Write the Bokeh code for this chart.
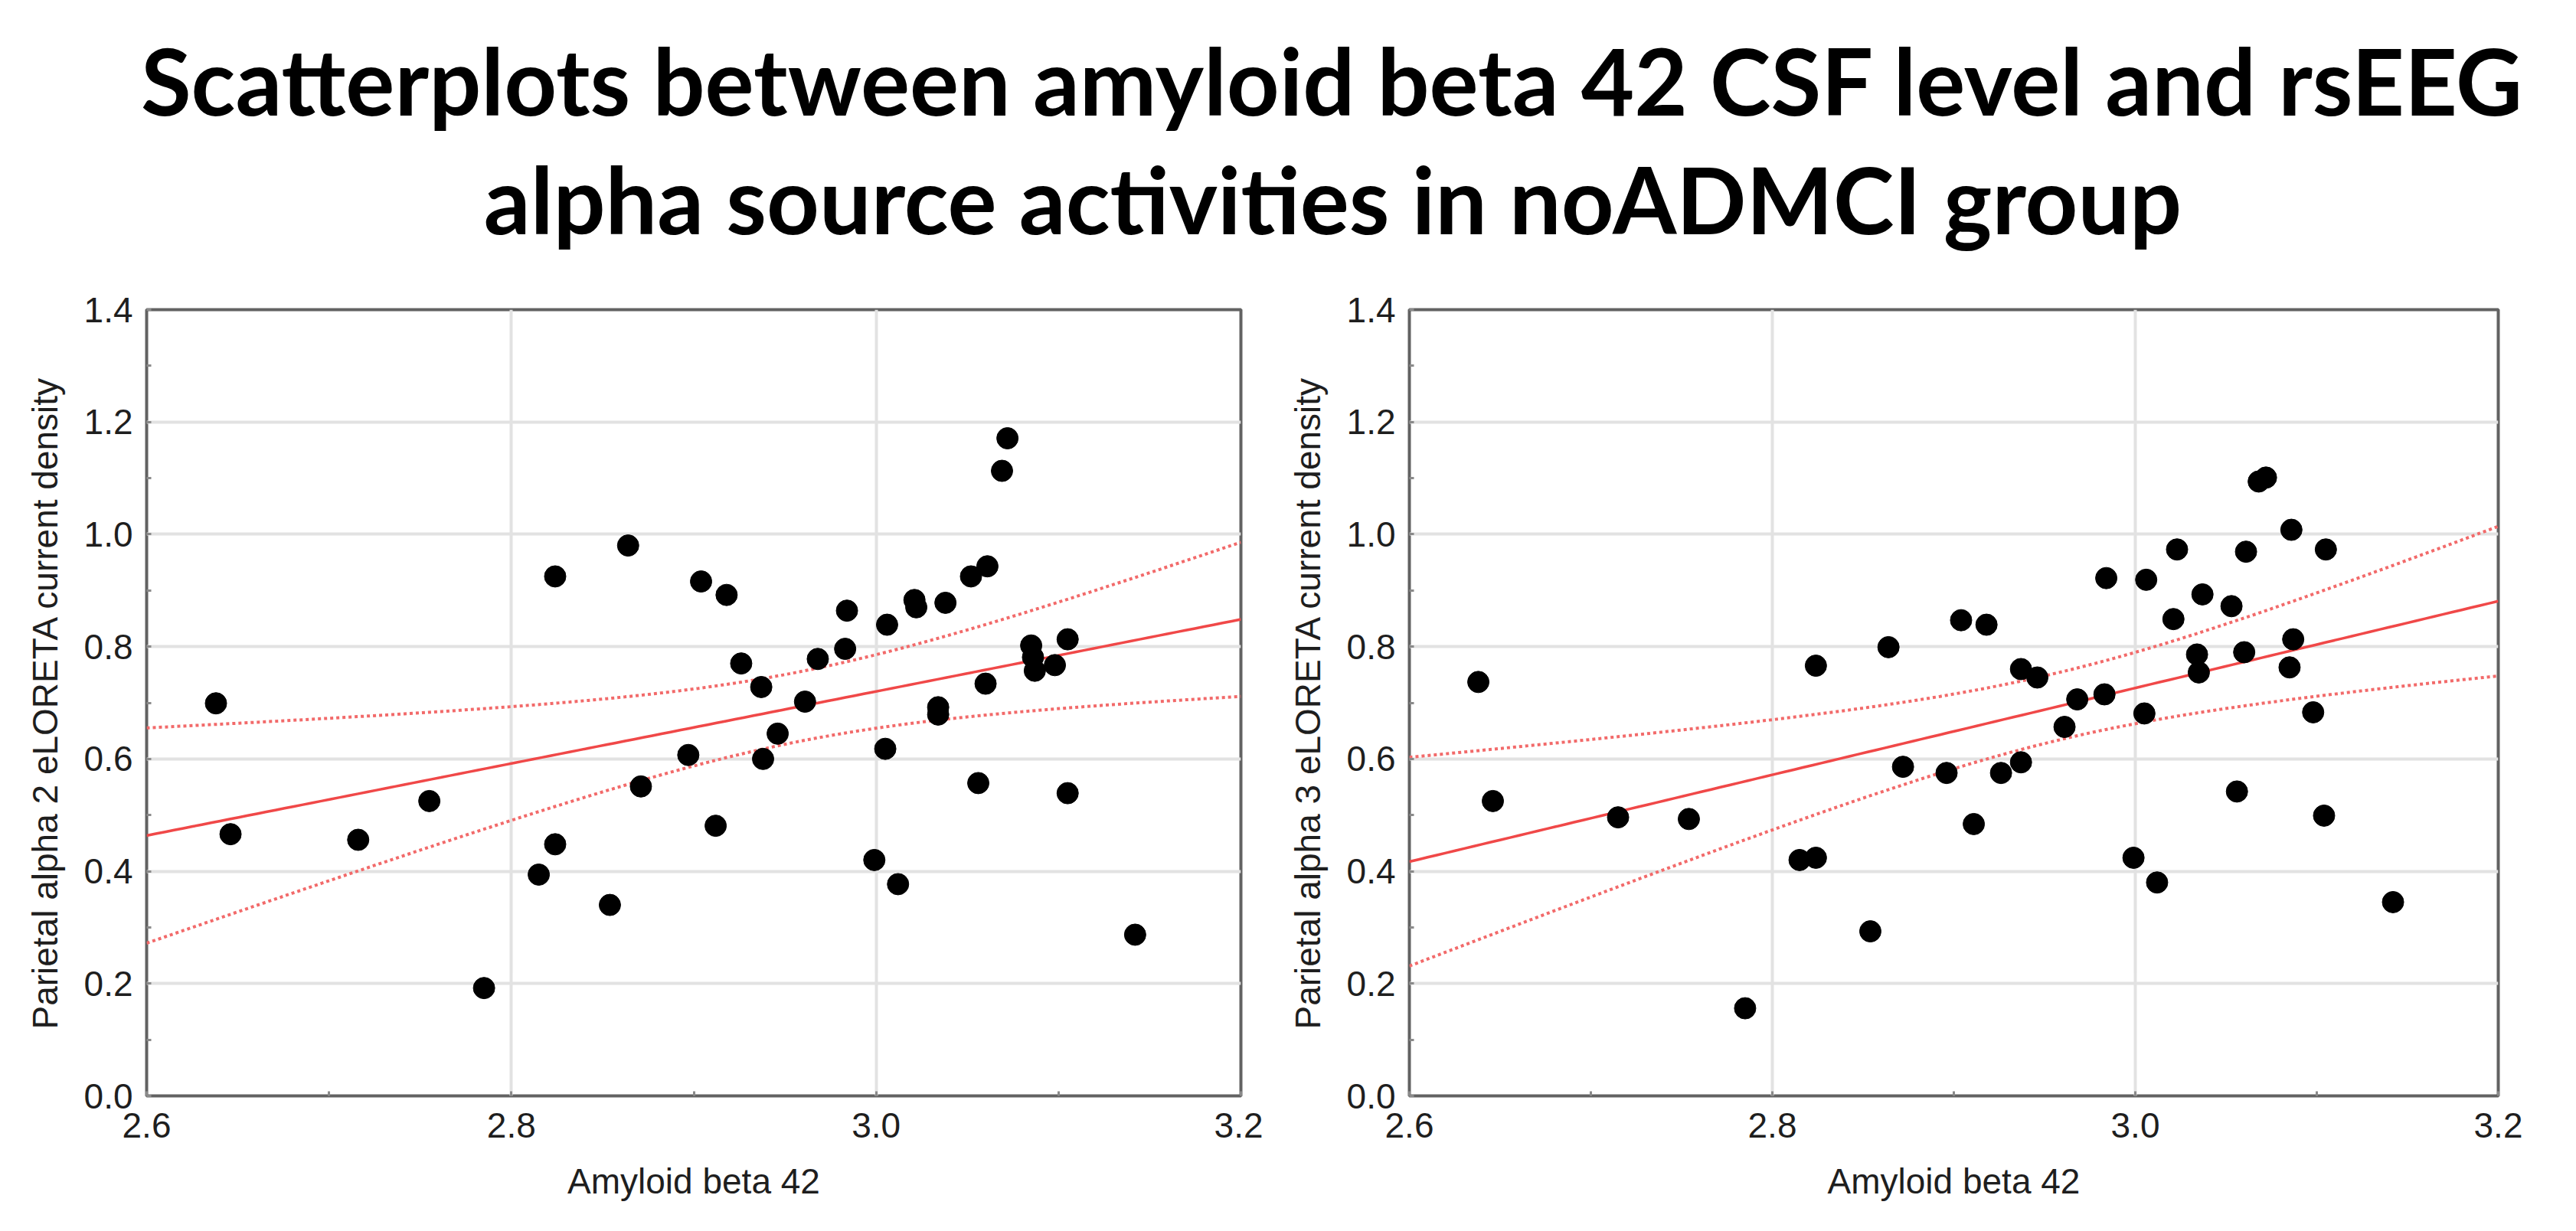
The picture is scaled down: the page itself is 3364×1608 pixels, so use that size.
import numpy as np
from bokeh.plotting import figure
from bokeh.layouts import column, row
from bokeh.models import Range1d, FixedTicker, PrintfTickFormatter, ColumnDataSource
from bokeh.embed import file_html
from bokeh.resources import INLINE
from bokeh.core.properties import value

# ---------------- data ----------------
title_lines = ["Scatterplots between amyloid beta 42 CSF level and rsEEG",
               "alpha source activities in noADMCI group"]
x_label = "Amyloid beta 42"
y_label_left = "Parietal alpha 2 eLORETA current density"
y_label_right = "Parietal alpha 3 eLORETA current density"

x_ticks = [2.6, 2.8, 3.0, 3.2]
x_minor = [2.7, 2.9, 3.1]
y_ticks = [0.0, 0.2, 0.4, 0.6, 0.8, 1.0, 1.2, 1.4]
y_minor = [0.1, 0.3, 0.5, 0.7, 0.9, 1.1, 1.3]

amyloid_left = [2.638, 2.646, 2.716, 2.755, 2.785, 2.815, 2.824, 2.824, 2.854, 2.864,
                2.871, 2.897, 2.904, 2.912, 2.918, 2.926, 2.937, 2.938, 2.946, 2.961,
                2.968, 2.983, 2.984, 2.999, 3.006, 3.005, 3.012, 3.021, 3.022, 3.034,
                3.034, 3.038, 3.052, 3.056, 3.060, 3.061, 3.069, 3.072, 3.085, 3.086,
                3.087, 3.098, 3.105, 3.105, 3.142]
alpha2 = [0.699, 0.466, 0.456, 0.525, 0.192, 0.394, 0.448, 0.925, 0.340, 0.980,
          0.551, 0.607, 0.916, 0.481, 0.892, 0.770, 0.728, 0.600, 0.645, 0.702,
          0.778, 0.796, 0.864, 0.420, 0.839, 0.618, 0.377, 0.883, 0.870, 0.692,
          0.679, 0.878, 0.925, 0.557, 0.734, 0.943, 1.113, 1.171, 0.802, 0.781,
          0.757, 0.767, 0.813, 0.539, 0.287]

amyloid_right = [2.638, 2.646, 2.715, 2.754, 2.785, 2.815, 2.824, 2.824, 2.854, 2.864,
                 2.872, 2.896, 2.904, 2.911, 2.918, 2.926, 2.937, 2.937, 2.946, 2.961,
                 2.968, 2.983, 2.984, 2.999, 3.006, 3.005, 3.012, 3.021, 3.023, 3.034,
                 3.035, 3.037, 3.053, 3.056, 3.060, 3.061, 3.068, 3.072, 3.086, 3.087,
                 3.085, 3.098, 3.105, 3.104, 3.142]
alpha3 = [0.737, 0.525, 0.496, 0.493, 0.156, 0.420, 0.424, 0.766, 0.293, 0.799,
          0.586, 0.575, 0.847, 0.484, 0.839, 0.575, 0.760, 0.594, 0.745, 0.657,
          0.706, 0.715, 0.922, 0.424, 0.919, 0.681, 0.380, 0.849, 0.973, 0.786,
          0.754, 0.893, 0.872, 0.542, 0.790, 0.969, 1.094, 1.101, 1.008, 0.813,
          0.763, 0.683, 0.973, 0.499, 0.345]

T_CRIT = 2.0167  # two-sided 95 % t value, df = 43

FONT = "Liberation Sans"


def fit_with_band(x, y, x0, x1):
    x = np.asarray(x, float)
    y = np.asarray(y, float)
    n = len(x)
    slope, intercept = np.polyfit(x, y, 1)
    xs = np.linspace(x0, x1, 120)
    yhat = intercept + slope * xs
    resid = y - (intercept + slope * x)
    s = np.sqrt(np.sum(resid ** 2) / (n - 2))
    sxx = np.sum((x - x.mean()) ** 2)
    se = s * np.sqrt(1.0 / n + (xs - x.mean()) ** 2 / sxx)
    return xs, yhat, yhat - T_CRIT * se, yhat + T_CRIT * se


def make_panel(x, y, ylab, width, border_left, border_right):
    p = figure(width=width, height=1221, output_backend="svg", toolbar_location=None,
               x_range=Range1d(x_ticks[0], x_ticks[-1]),
               y_range=Range1d(y_ticks[0], y_ticks[-1]),
               min_border_left=border_left, min_border_right=border_right,
               min_border_top=34, min_border_bottom=160)
    p.background_fill_color = "white"
    p.border_fill_color = "white"
    p.outline_line_color = "#626262"
    p.outline_line_width = 4

    p.xaxis.ticker = FixedTicker(ticks=x_ticks, minor_ticks=x_minor)
    p.yaxis.ticker = FixedTicker(ticks=y_ticks, minor_ticks=y_minor)
    for ax in (p.xaxis, p.yaxis):
        ax.formatter = PrintfTickFormatter(format="%.1f")
        ax.axis_line_color = None
        ax.major_tick_in = 6
        ax.major_tick_out = 0
        ax.minor_tick_in = 6
        ax.minor_tick_out = 0
        ax.major_tick_line_color = "#8a8a8a"
        ax.minor_tick_line_color = "#8a8a8a"
        ax.major_tick_line_width = 3
        ax.minor_tick_line_width = 3
        ax.major_label_text_font = FONT
        ax.major_label_text_font_size = "46px"
        ax.major_label_text_color = "#1e1e1e"
        ax.axis_label_text_font = FONT
        ax.axis_label_text_font_size = "46px"
        ax.axis_label_text_font_style = "normal"
        ax.axis_label_text_color = "#1e1e1e"
    p.xaxis.major_label_standoff = 22
    p.yaxis.major_label_standoff = 18
    p.xaxis.axis_label = x_label
    p.yaxis.axis_label = ylab
    p.xaxis.axis_label_standoff = 28
    p.yaxis.axis_label_standoff = 22

    p.xgrid.ticker = FixedTicker(ticks=x_ticks)
    p.ygrid.ticker = FixedTicker(ticks=y_ticks)
    p.grid.grid_line_color = "#e2e2e2"
    p.grid.grid_line_width = 4

    xs, yhat, lo, hi = fit_with_band(x, y, x_ticks[0], x_ticks[-1])
    band = ColumnDataSource(dict(x=xs, y=yhat, lo=lo, hi=hi))
    p.line("x", "hi", source=band, line_color="#f26a6a", line_width=4, line_dash="4 4")
    p.line("x", "lo", source=band, line_color="#f26a6a", line_width=4, line_dash="4 4")
    p.line("x", "y", source=band, line_color="#f04848", line_width=3.5)

    pts = ColumnDataSource(dict(x=x, y=y))
    p.scatter("x", "y", source=pts, size=28, fill_color="black", line_color="black")
    return p


# ---------------- title ----------------
TW, TH = 3342, 370
t = figure(width=TW, height=TH, output_backend="svg", toolbar_location=None,
           x_range=Range1d(0, TW), y_range=Range1d(TH, 0),
           min_border=0)
t.axis.visible = False
t.grid.visible = False
t.outline_line_color = None
t.text(x=[1740, 1740], y=[104, 259], text=title_lines,
       text_font=value("Lato"), text_font_style="bold", text_font_size="120px",
       text_align="center", text_baseline="alphabetic", text_color="black")

p1 = make_panel(amyloid_left, alpha2, y_label_left, 1649, 191, 29)
p2 = make_panel(amyloid_right, alpha3, y_label_right, 1693, 191, 80)

layout = column(t, row(p1, p2, spacing=0), spacing=0)

open("out.html", "w").write(file_html(layout, INLINE))
